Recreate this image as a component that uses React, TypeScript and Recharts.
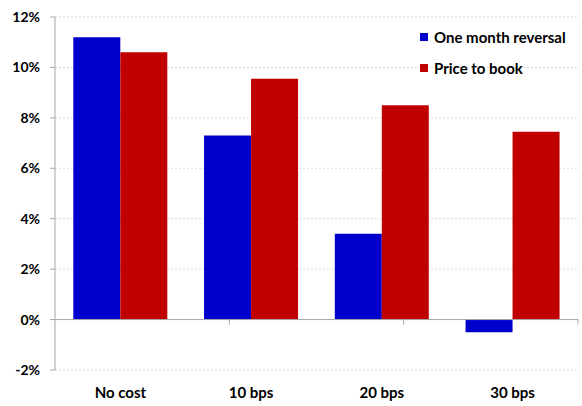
import React from 'react';
import {
  BarChart,
  Bar,
  XAxis,
  YAxis,
  CartesianGrid,
  ReferenceLine,
} from 'recharts';

const categories = ['No cost', '10 bps', '20 bps', '30 bps'];
const oneMonthReversal = [11.2, 7.3, 3.4, -0.5];
const priceToBook = [10.6, 9.55, 8.5, 7.45];
const yTicks = [-2, 0, 2, 4, 6, 8, 10, 12];
const boundaries = [1, 2, 3];

const BLUE = '#0000CC';
const RED = '#C00000';
const AXIS = '#a6a6a6';
const FONT = 'Lato, "Open Sans", sans-serif';

const series = [
  { key: 'reversal', name: 'One month reversal', color: BLUE, values: oneMonthReversal },
  { key: 'book', name: 'Price to book', color: RED, values: priceToBook },
];

const data = categories.map((name, i) => ({
  name,
  reversal: oneMonthReversal[i],
  book: priceToBook[i],
}));

const CategoryTick = (props: any) => {
  const { x, y, payload } = props;
  return (
    <text
      x={x}
      y={y}
      dy={20}
      textAnchor="middle"
      fill="#000"
      fontSize={15}
      fontWeight={700}
      fontFamily={FONT}
    >
      {payload.value}
    </text>
  );
};

export default function App() {
  return (
    <div style={{ position: 'relative', width: 582, height: 406, background: '#fff' }}>
      <style>{'body{margin:0}'}</style>
      <BarChart
        width={582}
        height={406}
        data={data}
        margin={{ top: 17, right: 4, bottom: 6, left: 0 }}
        barCategoryGap="14%"
        barGap={0}
      >
        <CartesianGrid
          vertical={false}
          stroke="#d9d9d9"
          strokeDasharray="2 2"
        />
        <XAxis
          dataKey="name"
          axisLine={false}
          tickLine={false}
          height={30}
          tick={<CategoryTick />}
          interval={0}
        />
        <XAxis xAxisId="num" type="number" domain={[0, 4]} hide />
        <YAxis
          domain={[-2, 12]}
          ticks={yTicks}
          interval={0}
          width={55}
          tickFormatter={(v) => `${v}%`}
          axisLine={{ stroke: AXIS }}
          tickLine={{ stroke: AXIS }}
          tickSize={5}
          tickMargin={10}
          tick={{ fill: '#000', fontSize: 14, fontWeight: 700, fontFamily: FONT }}
        />
        <ReferenceLine y={0} stroke={AXIS} />
        {boundaries.map((b) => (
          <ReferenceLine
            key={b}
            xAxisId="num"
            segment={[
              { x: b, y: 0 },
              { x: b, y: -0.2 },
            ]}
            stroke={AXIS}
          />
        ))}
        {series.map((s) => (
          <Bar
            key={s.key}
            dataKey={s.key}
            name={s.name}
            fill={s.color}
            isAnimationActive={false}
          />
        ))}
      </BarChart>
      <div
        style={{
          position: 'absolute',
          top: 21,
          left: 420,
          fontFamily: FONT,
          fontWeight: 700,
          fontSize: 15,
          color: '#000',
        }}
      >
        {series.map((s) => (
          <div key={s.key} style={{ display: 'flex', alignItems: 'center', height: 31 }}>
            <span
              style={{
                display: 'inline-block',
                width: 8,
                height: 8,
                background: s.color,
                marginRight: 6,
              }}
            />
            {s.name}
          </div>
        ))}
      </div>
    </div>
  );
}
